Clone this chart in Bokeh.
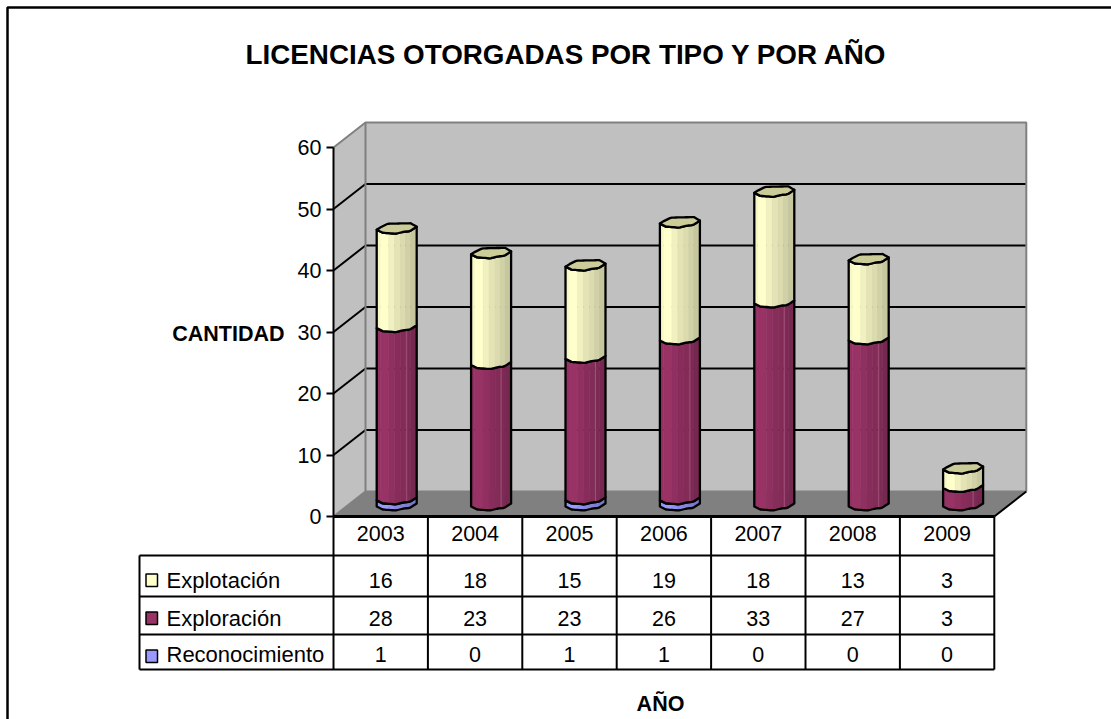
from bokeh.plotting import figure
from bokeh.models import Range1d, FixedTicker
from bokeh.embed import file_html
from bokeh.resources import INLINE
from bokeh.core.properties import value
import numpy as np

TITLE = "LICENCIAS OTORGADAS POR TIPO Y POR AÑO"
Y_NAME = "CANTIDAD"
X_NAME = "AÑO"
years = ["2003", "2004", "2005", "2006", "2007", "2008", "2009"]
explotacion = [16, 18, 15, 19, 18, 13, 3]
exploracion = [28, 23, 23, 26, 33, 27, 3]
reconocimiento = [1, 0, 1, 1, 0, 0, 0]
series_names = ["Explotación", "Exploración", "Reconocimiento"]
y_ticks = [0, 10, 20, 30, 40, 50, 60]

FONT = value("Liberation Sans")
W, H = 1111, 719
CAT = 94.4      # px per category
UNIT = 6.15     # px per licence
X0, Y0 = 333.0, 516.0   # front-left corner of the floor, px
TXT = "21.5px"


def xd(px):
    return (np.asarray(px, dtype=float) - X0) / CAT - 0.5


def yd(py):
    return (Y0 - np.asarray(py, dtype=float)) / UNIT


p = figure(width=W, height=H, output_backend="svg", toolbar_location=None,
           x_range=Range1d(float(xd(0)), float(xd(W))),
           y_range=Range1d(float(yd(H)), float(yd(0))),
           min_border=0, min_border_left=0, min_border_right=0,
           min_border_top=0, min_border_bottom=0,
           background_fill_color="white", border_fill_color="white",
           outline_line_color=None,
           styles={"position": "absolute", "left": "0px", "top": "0px"})
p.grid.visible = False

# 3D box depth in data units
DX = 32.0 / CAT
DY = 25.0 / UNIT
xl, xr = -0.5, 6.5
vmax = y_ticks[-1]

# walls and floor
p.patch([xl, xl + DX, xl + DX, xl], [0, DY, vmax + DY, vmax], fill_color="#C0C0C0", line_color=None)
p.patch([xl + DX, xr + DX, xr + DX, xl + DX], [DY, DY, vmax + DY, vmax + DY], fill_color="#C0C0C0", line_color=None)
p.patch([xl, xr, xr + DX, xl + DX], [0, 0, DY, DY], fill_color="#808080", line_color=None)

# grid lines
inner = y_ticks[1:-1]
p.segment([xl] * len(inner), inner, [xl + DX] * len(inner), [v + DY for v in inner], line_color="black", line_width=2)
p.segment([xl + DX] * len(inner), [v + DY for v in inner], [xr + DX] * len(inner), [v + DY for v in inner],
          line_color="black", line_width=2)
# grey wall edges
p.line([xl, xl + DX, xr + DX, xr + DX], [vmax, vmax + DY, vmax + DY, DY], line_color="#808080", line_width=2)
p.line([xl + DX, xl + DX, xr + DX], [vmax + DY, DY, DY], line_color="#808080", line_width=2)
p.line([xl, xl + DX], [0, DY], line_color="#808080", line_width=2)
p.line([xr, xr + DX], [0, DY], line_color="black", line_width=2)

# cylinder outline profile (px from the bar's centre; y offset px, down positive)
BAR_DX = 16.0 / CAT
BAR_BASE = 10.0 / UNIT
HALF = 20.0
front_x = np.array([-20, -14, -1, 7, 13, 20], dtype=float)
front_y = np.array([0, 3, 4, 2, 1.5, -3], dtype=float)
back_x = np.array([-20, -16, -9, 14, 20], dtype=float)
back_y = np.array([0, -2.5, -6, -6.5, -3], dtype=float)
strip_edges = np.array([-20, -16.5, -8, -2, 4, 9, 14, 20], dtype=float)
shade = [0.97, 1.0, 0.94, 0.89, 0.86, 0.82, 0.78]
YELLOW = (255, 255, 204)
PURPLE = (153, 51, 102)
BLUE = (153, 153, 255)


def col(c, k):
    return "#%02X%02X%02X" % tuple(int(round(v * k)) for v in c)


def curve(cx, v, xs, ys, dxs):
    """points of a profile curve at height v, in data units"""
    return cx + dxs / CAT, BAR_BASE + v - np.interp(dxs, xs, ys) / UNIT


def draw_segment(i, lo, hi, c, thin=False):
    cx = i + BAR_DX
    for k in range(len(shade)):
        dxs = np.linspace(strip_edges[k], strip_edges[k + 1], 5)
        bx, by = curve(cx, lo, front_x, front_y, dxs)
        tx, ty = curve(cx, hi, front_x, front_y, dxs)
        p.patch(list(bx) + list(tx[::-1]), list(by) + list(ty[::-1]),
                fill_color=col(c, shade[k]), line_color=col(c, shade[k]), line_width=0.5)
    if thin:
        dxs = np.array([10.0, 10.0])
        sx, _ = curve(cx, lo, front_x, front_y, dxs)
        _, by = curve(cx, lo, front_x, front_y, dxs[:1])
        _, ty = curve(cx, hi, front_x, front_y, dxs[:1])
        p.line([sx[0], sx[0]], [by[0], ty[0]], line_color="#B0608A", line_width=1, line_alpha=0.7)
    dxs = np.linspace(-HALF, HALF, 21)
    bx, by = curve(cx, lo, front_x, front_y, dxs)
    tx, ty = curve(cx, hi, front_x, front_y, dxs)
    p.patch(list(bx) + list(tx[::-1]), list(by) + list(ty[::-1]),
            fill_color=None, line_color="black", line_width=2.3, line_join="round")


for i in range(len(years)):
    h0 = 0
    for vals, c in ((reconocimiento, BLUE), (exploracion, PURPLE), (explotacion, YELLOW)):
        v = vals[i]
        if v:
            draw_segment(i, h0, h0 + v, c, thin=c is PURPLE)
            h0 += v
    # cap of the top segment
    cx = i + BAR_DX
    fx, fy = curve(cx, h0, front_x, front_y, np.linspace(-HALF, HALF, 21))
    ax, ay = curve(cx, h0, back_x, back_y, np.linspace(HALF, -HALF, 21))
    p.patch(list(fx) + list(ax), list(fy) + list(ay), fill_color="#CCCC99", line_color="black",
            line_width=2.3, line_join="round")

# real axes, placed on the box
p.yaxis.fixed_location = xl
p.yaxis.bounds = (0, vmax)
p.yaxis.ticker = FixedTicker(ticks=y_ticks)
p.yaxis.minor_tick_line_color = None
p.yaxis.major_tick_out = 7
p.yaxis.major_tick_in = 0
p.yaxis.major_tick_line_width = 2
p.yaxis.major_tick_line_color = "black"
p.yaxis.axis_line_width = 2
p.yaxis.axis_line_color = "black"
p.yaxis.major_label_standoff = 5
p.yaxis.major_label_text_font = "Liberation Sans"
p.yaxis.major_label_text_font_size = TXT
p.yaxis.major_label_text_color = "black"

p.xaxis.fixed_location = 0
p.xaxis.bounds = (xl, xr)
p.xaxis.ticker = FixedTicker(ticks=list(range(len(years))))
p.xaxis.major_label_overrides = {i: y for i, y in enumerate(years)}
p.xaxis.minor_tick_line_color = None
p.xaxis.major_tick_line_color = None
p.xaxis.major_tick_in = 0
p.xaxis.major_tick_out = 0
p.xaxis.axis_line_width = 3
p.xaxis.axis_line_color = "black"
p.xaxis.major_label_standoff = 9
p.xaxis.major_label_text_font = "Liberation Sans"
p.xaxis.major_label_text_font_size = TXT
p.xaxis.major_label_text_color = "black"

# data table
row_lines = [555, 596, 634, 669]
tx_left = 139
for j, ry in enumerate(row_lines):
    p.line([xd(tx_left), xr], [yd(ry), yd(ry)], line_color="black", line_width=2)
p.line([xd(tx_left), xd(tx_left)], [yd(row_lines[0]), yd(row_lines[-1])], line_color="black", line_width=2)
for k in range(len(years) + 1):
    p.line([xl + k, xl + k], [0, yd(row_lines[-1])], line_color="black", line_width=2)

row_centres = [580, 618, 654]
table = [explotacion, exploracion, reconocimiento]
swatch = [col(YELLOW, 1), col(PURPLE, 1), col(BLUE, 1)]
swatch_rows = [580, 618, 656]
for j, (name, vals, rc, sc, sr) in enumerate(zip(series_names, table, row_centres, swatch, swatch_rows)):
    p.text(list(range(len(vals))), [float(yd(rc))] * len(vals), text=[str(v) for v in vals],
           text_font=FONT, text_font_size=TXT, text_align="center", text_baseline="middle", text_color="black")
    p.text([float(xd(166))], [float(yd(rc))], text=[name], text_font=FONT, text_font_size="22px",
           text_align="left", text_baseline="middle", text_color="black")
    p.quad(left=[float(xd(145.5))], right=[float(xd(157))], top=[float(yd(sr - 6.5))], bottom=[float(yd(sr + 6))],
           fill_color=sc, line_color="black", line_width=1.5)

# titles
p.text([float(xd(566))], [float(yd(54))], text=[TITLE], text_font=FONT, text_font_style="bold",
       text_font_size="27.8px", text_align="center", text_baseline="middle", text_color="black")
p.text([float(xd(284))], [float(yd(333))], text=[Y_NAME], text_font=FONT, text_font_style="bold",
       text_font_size=TXT, text_align="right", text_baseline="middle", text_color="black")
p.text([float(xd(660))], [float(yd(703))], text=[X_NAME], text_font=FONT, text_font_style="bold",
       text_font_size=TXT, text_align="center", text_baseline="middle", text_color="black")

# chart-area border (left and top edges fall inside the window)
p.line([xd(W), xd(7), xd(7)], [yd(7), yd(7), yd(H)], line_color="black", line_width=2.5)

open("out.html", "w").write(file_html(p, INLINE))
